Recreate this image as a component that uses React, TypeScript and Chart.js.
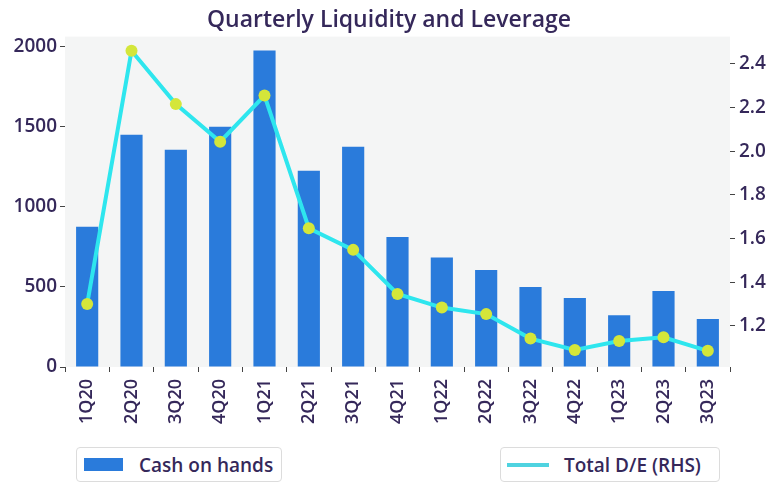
import React, { useEffect, useRef } from "react";
import { Chart, registerables } from "chart.js";

Chart.register(...registerables);

const categories = ["1Q20","2Q20","3Q20","4Q20","1Q21","2Q21","3Q21","4Q21","1Q22","2Q22","3Q22","4Q22","1Q23","2Q23","3Q23"];
const cashOnHands = [875, 1450, 1356, 1500, 1975, 1225, 1375, 812, 683, 606, 500, 431, 323, 475, 300];
const totalDE = [1.30, 2.459, 2.215, 2.043, 2.254, 1.647, 1.548, 1.346, 1.284, 1.254, 1.142, 1.090, 1.131, 1.148, 1.086];
const leftTicks = [0, 500, 1000, 1500, 2000];
const rightTicks = [1.2, 1.4, 1.6, 1.8, 2.0, 2.2, 2.4];

const TEXT = "#35285a";
const FONT = "'Open Sans', 'Noto Sans', sans-serif";
const BAR = "#2a7bdb";
const LINE = "#2ee6ee";
const MARK = "#d4e63a";

const bgPlugin = {
  id: "plotBg",
  beforeDraw(chart: any) {
    const { ctx, chartArea } = chart;
    ctx.save();
    ctx.fillStyle = "#f4f5f5";
    ctx.fillRect(chartArea.left, chartArea.top, chartArea.right - chartArea.left, chartArea.bottom - chartArea.top);
    ctx.restore();
  },
};

export default function App() {
  const ref = useRef<HTMLCanvasElement>(null);
  useEffect(() => {
    if (!ref.current) return;
    const chart = new Chart(ref.current, {
      type: "bar",
      data: {
        labels: categories,
        datasets: [
          {
            type: "line",
            label: "Total D/E (RHS)",
            data: totalDE,
            yAxisID: "y1",
            borderColor: LINE,
            borderWidth: 4,
            pointRadius: 6,
            pointBackgroundColor: MARK,
            pointBorderColor: MARK,
            pointBorderWidth: 0,
            tension: 0,
            order: 0,
          } as any,
          {
            type: "bar",
            label: "Cash on hands",
            data: cashOnHands,
            yAxisID: "y",
            backgroundColor: BAR,
            barPercentage: 0.5,
            categoryPercentage: 1,
            order: 1,
          },
        ],
      },
      options: {
        animation: false,
        responsive: false,
        layout: { padding: { left: 0, right: 0, top: 0, bottom: 0 } },
        plugins: {
          legend: { display: false },
          tooltip: { enabled: false },
          title: {
            display: true,
            text: "Quarterly Liquidity and Leverage",
            color: TEXT,
            font: { family: FONT, size: 23, weight: 600 },
            padding: { top: 7, bottom: 2 },
          },
        },
        scales: {
          x: {
            offset: true,
            grid: { display: true, drawOnChartArea: false, drawTicks: true, tickLength: 5, color: "#444" },
            border: { display: false },
            ticks: {
              color: TEXT,
              font: { family: FONT, size: 18, weight: 600 },
              maxRotation: 90,
              minRotation: 90,
              padding: 7,
              autoSkip: false,
            },
            afterFit(scale: any) {
              scale.height = 125;
            },
          },
          y: {
            position: "left",
            min: 0,
            max: 2062,
            grid: { display: true, drawOnChartArea: false, drawTicks: true, tickLength: 5, color: "#444" },
            border: { display: false },
            ticks: {
              color: TEXT,
              font: { family: FONT, size: 19, weight: 600 },
              padding: 3,
              callback: (v: any) => String(v),
            },
            afterBuildTicks(scale: any) {
              scale.ticks = leftTicks.map((v) => ({ value: v }));
            },
            afterFit(scale: any) {
              scale.width = 65;
            },
          },
          y1: {
            position: "right",
            min: 1.012,
            max: 2.524,
            grid: { display: true, drawOnChartArea: false, drawTicks: true, tickLength: 5, color: "#444" },
            border: { display: false },
            ticks: {
              color: TEXT,
              font: { family: FONT, size: 19, weight: 600 },
              padding: 4,
              callback: (v: any) => Number(v).toFixed(1),
            },
            afterBuildTicks(scale: any) {
              scale.ticks = rightTicks.map((v) => ({ value: v }));
            },
            afterFit(scale: any) {
              scale.width = 48;
            },
          },
        },
      },
      plugins: [bgPlugin],
    });
    return () => chart.destroy();
  }, []);

  const boxStyle: React.CSSProperties = {
    position: "absolute",
    top: 447,
    height: 35,
    boxSizing: "border-box",
    border: "1px solid #dcdcdc",
    borderRadius: 4,
    background: "#fff",
    display: "flex",
    alignItems: "center",
    fontFamily: FONT,
    fontWeight: 600,
    fontSize: 19,
    color: TEXT,
    whiteSpace: "nowrap",
  };

  return (
    <div style={{ position: "absolute", left: 0, top: 0, width: 778, height: 492, background: "#fff" }}>
      <canvas ref={ref} width={778} height={492} style={{ position: "absolute", left: 0, top: 0 }} />
      <div style={{ ...boxStyle, left: 76, width: 206 }}>
        <div style={{ marginLeft: 7, width: 39, height: 13, background: BAR }} />
        <span style={{ marginLeft: 16 }}>Cash on hands</span>
      </div>
      <div style={{ ...boxStyle, left: 500, width: 220 }}>
        <div style={{ marginLeft: 6, width: 42, height: 4, background: "#4fd3e0" }} />
        <span style={{ marginLeft: 15 }}>Total D/E (RHS)</span>
      </div>
    </div>
  );
}
